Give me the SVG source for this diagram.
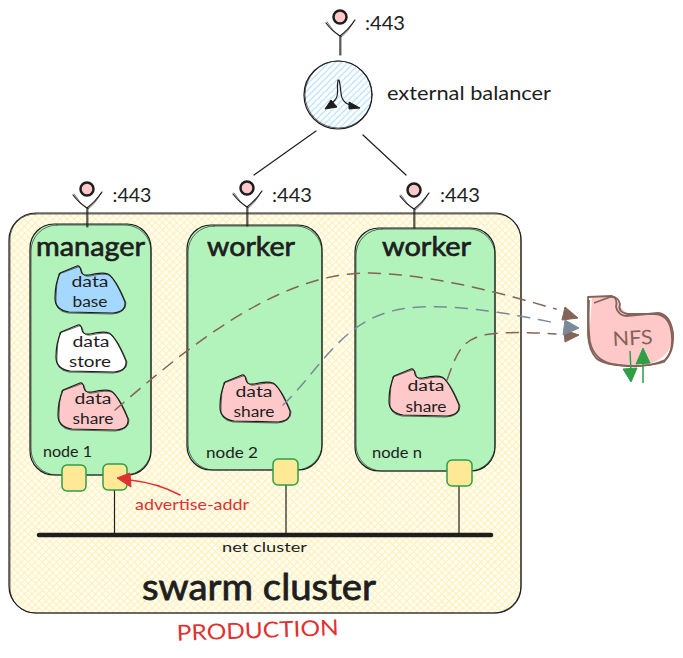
<svg xmlns="http://www.w3.org/2000/svg" xmlns:xlink="http://www.w3.org/1999/xlink" width="683" height="658" viewBox="0 0 683 658">
<style>
text{font-family:"Lato","Noto Sans","Liberation Sans",sans-serif;fill:#1e1e1e;text-anchor:middle}
.ink{fill:none;stroke:#1e1e1e;stroke-width:1.2;stroke-linecap:round;stroke-linejoin:round}
.ink2{fill:none;stroke:#1e1e1e;stroke-opacity:.65;stroke-width:1;stroke-linecap:round;stroke-linejoin:round}
.node{fill:#b2f2bb;stroke:none}
.port{fill:#ffe997;stroke:#2f9e44;stroke-width:1.5}
.wire{fill:none;stroke:#1e1e1e;stroke-width:1.2;stroke-linecap:round}
.dash{fill:none;stroke-width:1.5;stroke-dasharray:12 9;stroke-linecap:round}
.brown{stroke:#846358}.gray{stroke:#7b8a96}
.big{font-size:27px;stroke:#1e1e1e;stroke-width:.7}
.small{font-size:15px}
.lab{font-size:15.500px}
</style>
<defs>
<pattern id="hy" width="5" height="5" patternUnits="userSpaceOnUse" patternTransform="rotate(45)">
<rect width="5" height="5" fill="#fffdf4"/>
<path d="M0,2.5H5M2.5,0V5" stroke="#ffec99" stroke-width="1.100" stroke-opacity=".7"/>
</pattern>
<pattern id="hb" width="4.5" height="4.5" patternUnits="userSpaceOnUse" patternTransform="rotate(-45)">
<rect width="4.5" height="4.5" fill="#fff"/>
<path d="M0,2.2H4.5" stroke="#a5d8ff" stroke-width="1.300" stroke-opacity=".8"/>
</pattern>
<path id="blob" d="M5,7 L22,0 Q25,-1 26,5 Q27,10 34,9 Q47,6 53,8 Q60,12 70,36 Q71,46 58,47 L14,46 Q0,44 0,32 Q0,18 5,7Z"/>
<path id="blob2" d="M4,8 L23,1 Q26,0 27,6 Q28,11 35,10 Q48,7 54,9 Q62,14 71,37 Q71,47 57,48 L13,47 Q-1,45 1,31 Q1,18 4,8Z"/>
<g id="actorShape">
<circle cx="0" cy="0" r="6.500" fill="#ffc9c9" stroke="#1e1e1e" stroke-width="2.500"/>
<path class="ink" d="M-14,6 Q-8,14 0,19 Q8,13 15,3M0,19V38"/>
<path class="ink2" d="M-13,5 Q-7,15 1,20 Q9,14 14,4M1,19V38"/>
</g>
</defs>
<rect width="683" height="658" fill="#fff"/>

<g id="swarm-cluster">
<rect x="9" y="213" width="512" height="400" rx="27" fill="url(#hy)"/>
<rect class="ink" x="9" y="213" width="512" height="400" rx="27"/>
<rect class="ink2" x="10" y="214" width="511" height="399" rx="25"/>
<text x="259" y="600" font-size="36" stroke="#1e1e1e" stroke-width=".8" textLength="234" lengthAdjust="spacingAndGlyphs">swarm cluster</text>
</g>

<g id="node-manager">
<rect class="node" x="30" y="224" width="121" height="251" rx="24"/>
<rect class="ink" x="30" y="224" width="121" height="251" rx="24"/>
<rect class="ink2" x="31" y="225" width="120" height="250" rx="26"/>
<text class="big" x="90.500" y="256" textLength="109" lengthAdjust="spacingAndGlyphs">manager</text>
<text class="small" x="67.500" y="457" textLength="49" lengthAdjust="spacingAndGlyphs">node 1</text>
</g>
<g id="node-worker-2">
<rect class="node" x="187" y="225" width="135" height="245" rx="24"/>
<rect class="ink" x="187" y="225" width="135" height="245" rx="24"/>
<rect class="ink2" x="188" y="226" width="134" height="244" rx="26"/>
<text class="big" x="251" y="256" textLength="88" lengthAdjust="spacingAndGlyphs">worker</text>
<text class="small" x="232" y="458" textLength="52" lengthAdjust="spacingAndGlyphs">node 2</text>
</g>
<g id="node-worker-n">
<rect class="node" x="355" y="228" width="140" height="243" rx="24"/>
<rect class="ink" x="355" y="228" width="140" height="243" rx="24"/>
<rect class="ink2" x="356" y="229" width="139" height="242" rx="26"/>
<text class="big" x="426.500" y="256" textLength="89" lengthAdjust="spacingAndGlyphs">worker</text>
<text class="small" x="397" y="458" textLength="50" lengthAdjust="spacingAndGlyphs">node n</text>
</g>

<g id="data-base" transform="translate(55,266)">
<use href="#blob" fill="#a5d8ff"/><use href="#blob" class="ink"/><use href="#blob2" class="ink2"/>
<text class="lab" x="35" y="21" textLength="37" lengthAdjust="spacingAndGlyphs">data</text>
<text class="lab" x="35" y="41" textLength="35" lengthAdjust="spacingAndGlyphs">base</text>
</g>
<g id="data-store" transform="translate(56,325)">
<use href="#blob" fill="#fff"/><use href="#blob" class="ink"/><use href="#blob2" class="ink2"/>
<text class="lab" x="35" y="22" textLength="37" lengthAdjust="spacingAndGlyphs">data</text>
<text class="lab" x="34" y="42" textLength="42" lengthAdjust="spacingAndGlyphs">store</text>
</g>
<g id="data-share-1" transform="translate(58,383)">
<use href="#blob" fill="#ffc9c9"/><use href="#blob" class="ink"/><use href="#blob2" class="ink2"/>
<text class="lab" x="35" y="21" textLength="37" lengthAdjust="spacingAndGlyphs">data</text>
<text class="lab" x="35" y="41" textLength="41" lengthAdjust="spacingAndGlyphs">share</text>
</g>
<g id="data-share-2" transform="translate(220,375)">
<use href="#blob" fill="#ffc9c9"/><use href="#blob" class="ink"/><use href="#blob2" class="ink2"/>
<text class="lab" x="34" y="22" textLength="37" lengthAdjust="spacingAndGlyphs">data</text>
<text class="lab" x="34" y="42" textLength="41" lengthAdjust="spacingAndGlyphs">share</text>
</g>
<g id="data-share-n" transform="translate(389,369)">
<use href="#blob" fill="#ffc9c9"/><use href="#blob" class="ink"/><use href="#blob2" class="ink2"/>
<text class="lab" x="37" y="22" textLength="37" lengthAdjust="spacingAndGlyphs">data</text>
<text class="lab" x="37" y="43" textLength="41" lengthAdjust="spacingAndGlyphs">share</text>
</g>

<g id="connectors">
<path class="wire" d="M316,131L254,175M363,135L406,175"/>
<path class="wire" d="M114.500,490V535M286,485V535M459,486V535"/>
<path d="M39,535H491" fill="none" stroke="#1e1e1e" stroke-width="4.500" stroke-linecap="round"/>
<path class="dash brown" d="M115,410C190,345 280,272 370,273C440,275 510,296 556,309"/>
<path class="dash gray" d="M283,405C325,365 345,310 420,307C470,305 520,316 556,323"/>
<path class="dash brown" d="M447,380C458,350 462,335 500,333C525,332 540,333 556,334"/>
<path d="M565,307L578,318L562,320Z" fill="#846358" stroke="#846358"/>
<path d="M564,330L579,335L565,342Z" fill="#846358" stroke="#846358"/>
<path d="M565,320L579,328L563,335Z" fill="#7b8a96" stroke="#7b8a96"/>
<path d="M180,495C165,487 148,482 130,480" fill="none" stroke="#e03131" stroke-width="1.500" stroke-linecap="round"/>
</g>

<g id="port-1"><rect class="port" x="62" y="465" width="24" height="26" rx="5"/></g>
<g id="port-2"><rect class="port" x="103" y="464" width="24" height="26" rx="5"/></g>
<g id="port-3"><rect class="port" x="273" y="459" width="25" height="26" rx="5"/></g>
<g id="port-4"><rect class="port" x="447" y="460" width="25" height="26" rx="5"/></g>
<path d="M117,478L130,473L131,487Z" fill="#e03131" stroke="#e03131"/>

<g id="balancer">
<circle cx="338" cy="95" r="34" fill="url(#hb)"/>
<circle class="ink" cx="338" cy="95" r="34"/>
<circle class="ink2" cx="338.500" cy="94.500" r="33.500"/>
<path class="ink" d="M338,80C336,90 340,94 335,100L330,105M339,80C342,90 339,98 346,103Q350,106 354,106"/>
<path d="M325,109L331,100L337,107Z" fill="#1e1e1e" stroke="#1e1e1e"/>
<path d="M360,108L349,102L349,109Z" fill="#1e1e1e" stroke="#1e1e1e"/>
<text x="469" y="100" font-size="19" textLength="164" lengthAdjust="spacingAndGlyphs">external balancer</text>
</g>
<g id="actor-top"><use href="#actorShape" transform="translate(340,17)"/><text x="385" y="30" font-size="20" textLength="40" lengthAdjust="spacingAndGlyphs">:443</text></g>
<g id="actor-manager"><use href="#actorShape" transform="translate(87,189)"/><text x="132" y="202" font-size="20" textLength="39" lengthAdjust="spacingAndGlyphs">:443</text></g>
<g id="actor-worker-2"><use href="#actorShape" transform="translate(247,188)"/><text x="292" y="202" font-size="20" textLength="40" lengthAdjust="spacingAndGlyphs">:443</text></g>
<g id="actor-worker-n"><use href="#actorShape" transform="translate(414,190)"/><text x="460" y="202" font-size="20" textLength="40" lengthAdjust="spacingAndGlyphs">:443</text></g>

<g id="nfs">
<path d="M592,298L615,296Q620,310 630,315L660,314Q672,320 671,345Q665,362 640,366L605,362Q590,352 589,340Z" fill="#ffc9c9"/>
<path d="M588,297L612,296Q618,298 616,307Q618,315 626,316L658,313Q670,314 673,333Q674,352 665,360Q650,367 628,366Q604,365 596,358Q589,350 588,335Z" fill="none" stroke="#846358" stroke-width="1.800" stroke-linejoin="round"/>
<path d="M589,300Q588,330 590,342Q594,360 612,364Q640,369 664,362Q675,350 671,330Q668,314 654,314L628,314Q617,312 620,304Q618,296 610,297L594,303" fill="none" stroke="#846358" stroke-width="1.800" stroke-linejoin="round"/>
<text x="633" y="345" font-size="20" style="fill:#846358" textLength="40" lengthAdjust="spacingAndGlyphs" transform="rotate(-3 633 345)">NFS</text>
<path d="M630,351L631,372M643,383V358" fill="none" stroke="#2f9e44" stroke-width="1.500"/>
<path d="M631,382L623,369L637,368Z" fill="#2f9e44" stroke="#2f9e44"/>
<path d="M643,348L636,364L650,363Z" fill="#2f9e44" stroke="#2f9e44"/>
</g>

<text id="net-cluster" x="264.500" y="552" font-size="14" textLength="85" lengthAdjust="spacingAndGlyphs">net cluster</text>
<text id="advertise-addr" x="192" y="510" font-size="15" style="fill:#e03131" textLength="114" lengthAdjust="spacingAndGlyphs">advertise-addr</text>
<text id="production" x="258" y="638" font-size="22" style="fill:#e03131" textLength="162" lengthAdjust="spacingAndGlyphs" transform="rotate(-2 258 638)">PRODUCTION</text>
</svg>
